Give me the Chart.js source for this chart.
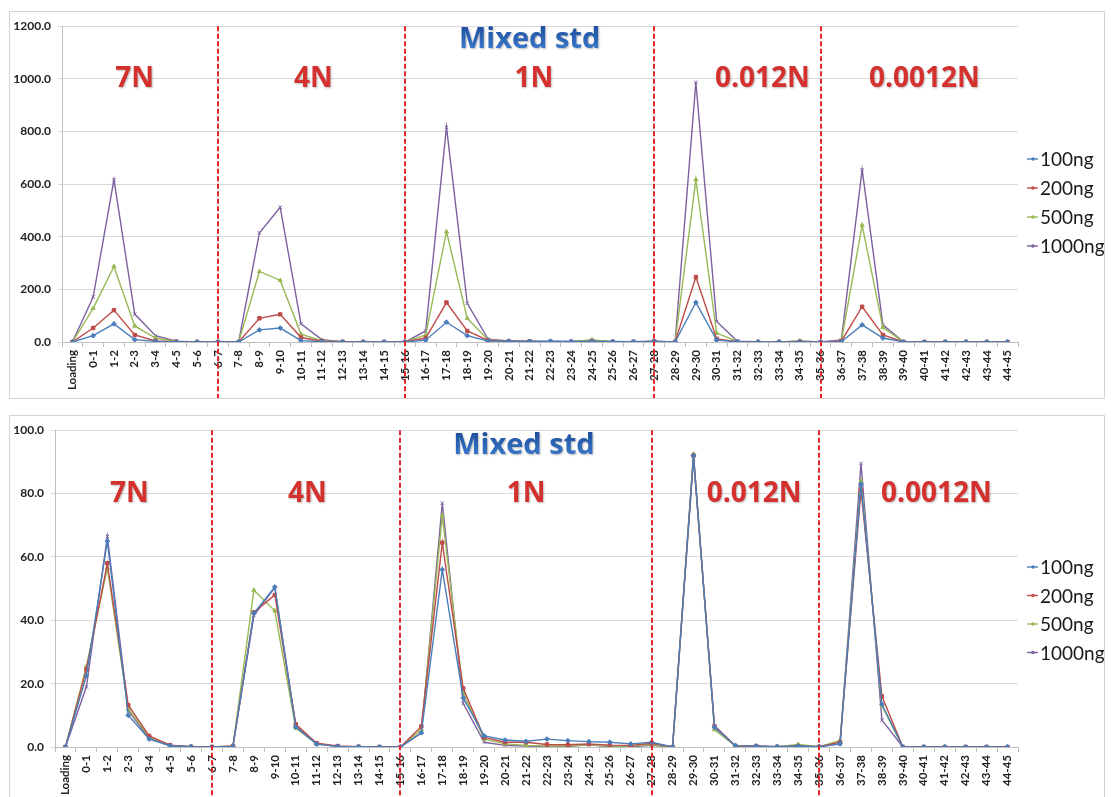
<!DOCTYPE html>
<html>
<head>
<meta charset="utf-8">
<script src="https://cdn.jsdelivr.net/npm/chart.js@4.4.1/dist/chart.umd.min.js"></script>
<style>
  html, body { margin: 0; padding: 0; background: #fff; width: 1111px; height: 797px; overflow: hidden; }
  .panel { position: absolute; left: 9px; width: 1094px; height: 386px; border: 1px solid #d4d4d4; background: #fff; }
  #p1 { top: 11px; }
  #p2 { top: 415px; }
  canvas { display: block; }
</style>
</head>
<body>
<div class="panel" id="p1"><canvas id="c1" width="1094" height="386"></canvas></div>
<div class="panel" id="p2"><canvas id="c2" width="1094" height="386"></canvas></div>
<script>
// Fraction labels (elution volume windows)
const categories = [
  'Loading', '0-1', '1-2', '2-3', '3-4', '4-5', '5-6', '6-7', '7-8', '8-9', '9-10',
  '10-11', '11-12', '12-13', '13-14', '14-15', '15-16', '16-17', '17-18', '18-19', '19-20',
  '20-21', '21-22', '22-23', '23-24', '24-25', '25-26', '26-27', '27-28', '28-29', '29-30',
  '30-31', '31-32', '32-33', '33-34', '34-35', '35-36', '36-37', '37-38', '38-39', '39-40',
  '40-41', '41-42', '42-43', '43-44', '44-45'
];

const seriesNames = ['100ng', '200ng', '500ng', '1000ng'];

// Eluted amount per fraction
const amount100 = [0, 24, 69, 9, 2, 0, 0, 0, 0, 46, 53, 5, 1, 0, 0, 0, 0, 7, 75, 24, 4, 3, 2, 3, 2, 2, 2, 1, 2, 0, 150, 7, 1, 0, 0, 0, 0, 1, 65, 15, 0, 0, 0, 0, 0, 0];
const amount200 = [0, 53, 121, 27, 4, 1, 0, 0, 0, 90, 105, 17, 3, 1, 0, 0, 0, 15, 150, 42, 6, 3, 3, 1, 1, 2, 1, 1, 3, 0, 247, 12, 1, 0, 0, 1, 0, 3, 134, 27, 0, 0, 0, 0, 0, 0];
const amount500 = [0, 128, 287, 61, 15, 2, 0, 0, 0, 268, 234, 30, 5, 1, 0, 0, 0, 27, 419, 90, 8, 3, 1, 1, 1, 8, 1, 0, 2, 0, 617, 34, 2, 1, 0, 4, 0, 3, 444, 55, 0, 0, 0, 0, 0, 0];
const amount1000 = [0, 171, 617, 106, 24, 3, 0, 0, 0, 415, 512, 69, 9, 1, 0, 0, 0, 42, 816, 147, 11, 4, 2, 2, 2, 7, 1, 0, 0, 0, 987, 78, 3, 1, 0, 3, 0, 8, 655, 65, 0, 0, 0, 0, 0, 0];

// Share of each acid step (%) per fraction
const share100 = [0, 22.5, 65, 10, 2.5, 0.4, 0.1, 0, 0.2, 42.2, 50.5, 6.3, 0.9, 0.2, 0.1, 0, 0, 4.5, 56, 15.5, 3.5, 2.2, 1.8, 2.5, 2.0, 1.7, 1.5, 1.0, 1.5, 0, 92, 6.2, 0.4, 0.3, 0.1, 0.3, 0.1, 1.0, 83, 13.5, 0, 0, 0, 0, 0, 0];
const share200 = [0, 24.5, 58, 13.2, 3.5, 0.6, 0.1, 0, 0.3, 42.5, 48, 7.2, 1.2, 0.3, 0.1, 0, 0, 6.5, 64.5, 18.5, 3, 1.5, 1.5, 0.8, 0.7, 1.0, 0.6, 0.5, 1.2, 0, 92, 6.5, 0.4, 0.3, 0.1, 0.3, 0.1, 1.5, 81, 16, 0, 0, 0, 0, 0, 0];
const share500 = [0, 25.5, 56.5, 12, 3.2, 0.5, 0.1, 0, 0.3, 49.5, 43, 6, 1, 0.2, 0.1, 0, 0, 5.5, 73, 17, 2.5, 1, 0.5, 0.3, 0.3, 0.8, 0.3, 0.3, 0.8, 0, 92.5, 5.5, 0.3, 0.2, 0.1, 0.8, 0.1, 2.0, 84, 13, 0, 0, 0, 0, 0, 0];
const share1000 = [0, 19, 66.5, 11.5, 2.7, 0.4, 0.1, 0, 0.2, 41.5, 50.3, 6.8, 1, 0.2, 0.1, 0, 0, 4.5, 77, 13.8, 1.5, 0.5, 0.3, 0.2, 0.2, 0.7, 0.1, 0.1, 0.5, 0, 91, 6.8, 0.3, 0.1, 0.1, 0.3, 0.1, 1.0, 89.5, 8.5, 0, 0, 0, 0, 0, 0];

// Acid steps and the fraction where each step change happens
const stepNames = ['7N', '4N', '1N', '0.012N', '0.0012N'];
const stepChanges = ['6-7', '15-16', '27-28', '35-36'];
const titleText = 'Mixed std';

// ---- styling ----
const seriesColors = ['#4a7ebb', '#be4b48', '#98b954', '#7d60a0'];
const markerStyles = ['rectRot', 'rect', 'triangle', 'crossRot'];
const tickFont = { family: 'Lato', weight: 'bold', size: 12 };
const xTickFont = { family: 'Lato', weight: 'bold', size: 11.5 };

function makeDatasets(seriesValues) {
  return seriesValues.map((vals, i) => ({
    label: seriesNames[i],
    data: vals,
    borderColor: seriesColors[i],
    backgroundColor: seriesColors[i],
    borderWidth: 1.4,
    pointStyle: markerStyles[i],
    pointRadius: 2.4,
    pointBorderWidth: 1,
    pointHoverRadius: 2.4,
    tension: 0,
    fill: false
  }));
}

// Dashed step dividers, step names, title and a compact series key
const annotatePlugin = {
  id: 'annotate',
  afterDraw(chart, args, opts) {
    const { ctx, chartArea, scales } = chart;
    const xs = scales.x, ys = scales.y;
    ctx.save();

    // step dividers
    ctx.strokeStyle = '#e3262b';
    ctx.lineWidth = 2;
    ctx.setLineDash([5, 2.5]);
    stepChanges.forEach(lbl => {
      const x = Math.round(xs.getPixelForValue(categories.indexOf(lbl)));
      ctx.beginPath();
      ctx.moveTo(x, chartArea.top);
      ctx.lineTo(x, chart.height);
      ctx.stroke();
    });
    ctx.setLineDash([]);

    // step names
    ctx.textAlign = 'center';
    ctx.textBaseline = 'middle';
    ctx.font = 'bold 28px "Open Sans"';
    ctx.shadowColor = 'rgba(0,0,0,0.28)';
    ctx.shadowBlur = 2;
    ctx.shadowOffsetX = 1;
    ctx.shadowOffsetY = 1;
    stepNames.forEach((name, i) => {
      const x = xs.getPixelForValue(opts.stepAt[i]);
      const y = ys.getPixelForValue(opts.stepLevel);
      ctx.fillStyle = '#d4312e';
      ctx.fillText(name, x, y);
    });

    // title
    const tx = xs.getPixelForValue(opts.titleAt);
    const ty = ys.getPixelForValue(opts.titleLevel);
    const grad = ctx.createLinearGradient(0, ty - 14, 0, ty + 14);
    grad.addColorStop(0, '#1d4f9e');
    grad.addColorStop(1, '#3f7fd4');
    ctx.fillStyle = grad;
    ctx.font = 'bold 29px "Open Sans"';
    ctx.fillText(titleText, tx, ty);
    ctx.shadowColor = 'transparent';

    // series key
    ctx.textAlign = 'left';
    ctx.font = '19px Lato';
    const kx = chartArea.right + 9;
    chart.data.datasets.forEach((ds, i) => {
      const y = opts.keyTop + i * opts.keyStep;
      ctx.strokeStyle = ds.borderColor;
      ctx.lineWidth = 1.4;
      ctx.beginPath();
      ctx.moveTo(kx, y);
      ctx.lineTo(kx + 11, y);
      ctx.stroke();
      ctx.fillStyle = ds.borderColor;
      ctx.beginPath();
      ctx.arc(kx + 6, y, 1.8, 0, Math.PI * 2);
      ctx.fill();
      ctx.fillStyle = '#1a1a1a';
      ctx.fillText(ds.label, kx + 13, y + 1);
    });
    ctx.restore();
  }
};

function makeChart(canvasId, seriesValues, yMax, yStep, yWidth, plotBottom, annot) {
  const canvas = document.getElementById(canvasId);
  return new Chart(canvas, {
    type: 'line',
    data: { labels: categories, datasets: makeDatasets(seriesValues) },
    options: {
      responsive: false,
      animation: false,
      events: [],
      layout: { padding: { top: 11, right: 86, left: 0, bottom: 0 } },
      plugins: {
        legend: { display: false },
        tooltip: { enabled: false },
        annotate: annot
      },
      scales: {
        x: {
          type: 'category',
          offset: true,
          grid: { display: true, offset: true, drawOnChartArea: false, drawTicks: true, tickLength: 5, color: '#bfbfbf' },
          border: { display: true, color: '#bfbfbf' },
          ticks: {
            autoSkip: false, maxRotation: 90, minRotation: 90, padding: 3,
            color: '#222', font: xTickFont
          },
          afterFit(scale) { scale.height = 386 - plotBottom; }
        },
        y: {
          min: 0, max: yMax,
          grid: { color: '#d9d9d9', lineWidth: 1, tickLength: 4 },
          border: { display: true, color: '#bfbfbf' },
          ticks: {
            stepSize: yStep, padding: 7, color: '#222', font: tickFont,
            callback: v => Number(v).toFixed(1)
          },
          afterFit(scale) { scale.width = yWidth; }
        }
      }
    },
    plugins: [annotatePlugin]
  });
}

makeChart('c1', [amount100, amount200, amount500, amount1000], 1200, 200, 52, 330, {
  stepAt: [3.0, 11.6, 22.2, 33.2, 41.0], stepLevel: 1000,
  titleAt: 22.0, titleLevel: 1148,
  keyTop: 147, keyStep: 29
});

makeChart('c2', [share100, share200, share500, share1000], 100, 20, 45, 331, {
  stepAt: [3.05, 11.55, 22.0, 32.9, 41.6], stepLevel: 80,
  titleAt: 21.9, titleLevel: 95,
  keyTop: 151, keyStep: 28.5
});
</script>
</body>
</html>
